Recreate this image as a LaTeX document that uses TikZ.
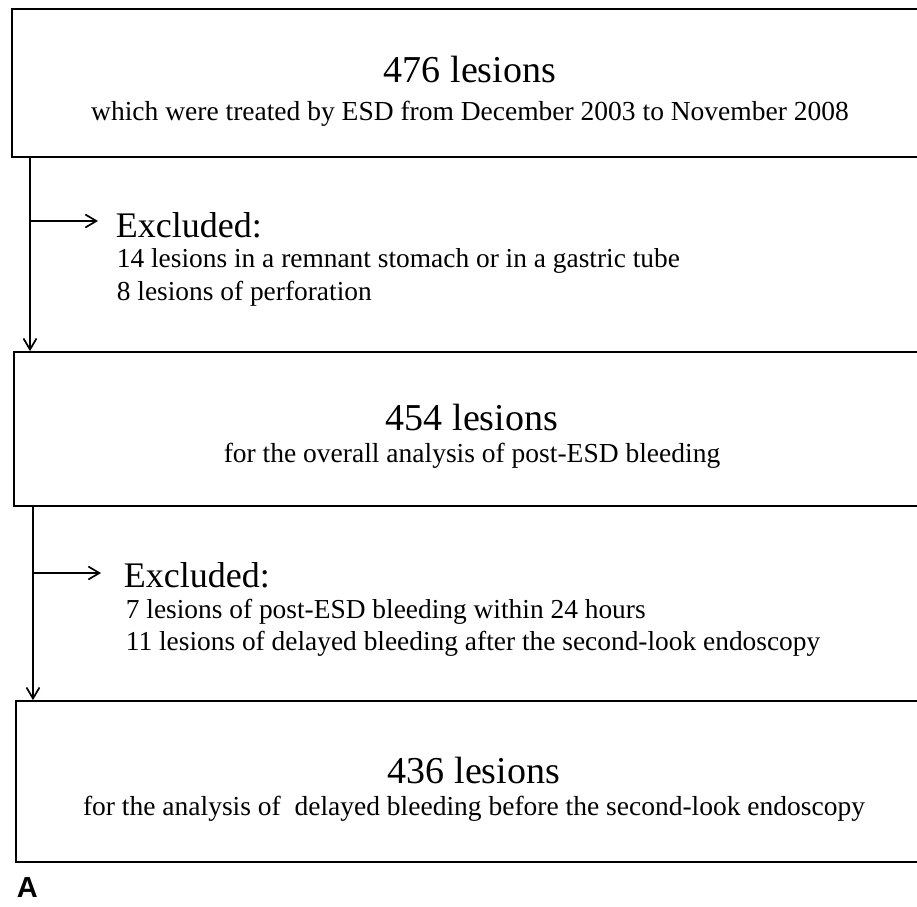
\documentclass[tikz,border=0pt]{standalone}
\usepackage{fontspec}
\setmainfont{Liberation Serif}
\setsansfont{Liberation Sans}
\usetikzlibrary{arrows.meta, positioning}

\begin{document}
\begin{tikzpicture}[
  x=1pt, y=-1pt,
  line width=1.7pt,
  box/.style    = {rectangle, draw, minimum width=916pt, inner sep=0pt},
  head/.style   = {anchor=base, inner sep=0pt, font=\fontsize{38}{40}\selectfont},
  sub/.style    = {anchor=base, inner sep=0pt, font=\fontsize{27.5}{32}\selectfont},
  excl/.style   = {anchor=base west, inner sep=0pt, font=\fontsize{36}{40}\selectfont},
  detail/.style = {anchor=base west, inner sep=0pt, align=left},
  flow/.style   = {-{Straight Barb[length=11pt, width=13pt]}},
  ]
  \useasboundingbox (0,0) rectangle (917,906);
  \clip (0,0) rectangle (917,906);

  % Boxes (their right side runs off the page)
  \node (box476) at (470,83)    [box, minimum height=148pt] {};
  \node (box454) at (472,429)   [box, minimum height=154pt] {};
  \node (box436) at (474,781.5) [box, minimum height=161pt] {};

  % Box texts
  \node (hd476)  at (470,82)  [head] {476 lesions};
  \node (sub476) at (470,120) [sub]  {which were treated by ESD from December 2003 to November 2008};
  \node (hd454)  at (472,430) [head] {454 lesions};
  \node (sub454) at (472,462) [sub]  {for the overall analysis of post-ESD bleeding};
  \node (hd436)  at (474,783) [head] {436 lesions};
  \node (sub436) at (474,815) [sub]  {for the analysis of\ \ delayed bleeding before the second-look endoscopy};

  % Exclusions (base = last line)
  \node (ex1)  at (115,237) [excl] {Excluded:};
  \node (det1) at (116,300) [detail, font=\fontsize{27.4}{33}\selectfont]
    {14 lesions in a remnant stomach or in a gastric tube\\8 lesions of perforation};
  \node (ex2)  at (123,587) [excl] {Excluded:};
  \node (det2) at (125,650) [detail, font=\fontsize{27.4}{32}\selectfont]
    {7 lesions of post-ESD bleeding within 24 hours\\11 lesions of delayed bleeding after the second-look endoscopy};

  \coordinate (split1) at (30,221);
  \coordinate (split2) at (33,573);

  % Flow
  \draw[flow] (box476.south -| split1) -- (box454.north -| split1);
  \draw[flow, shorten >=17pt] (split1) -- (split1 -| ex1.west);
  \draw[flow] (box454.south -| split2) -- (box436.north -| split2);
  \draw[flow, shorten >=22pt] (split2) -- (split2 -| ex2.west);

  \node (panelA) at (16,897) [anchor=base west, inner sep=0pt, font=\sffamily\bfseries\fontsize{29}{31}\selectfont] {A};
\end{tikzpicture}
\end{document}
